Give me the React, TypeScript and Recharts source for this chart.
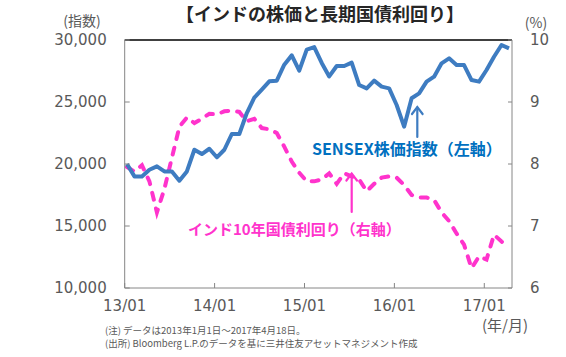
import React from 'react';
import { LineChart, Line, XAxis, YAxis, ReferenceLine } from 'recharts';

// Monthly observations, Jan 2013 .. Apr 2017 (observed around the 10th of each month)
const OBS_OFFSET = 0.3; // fraction of a month after the month start
const sensex = [
  20000, 19000, 19000, 19540, 19810, 19400, 19400, 18650, 19400, 21150,
  20800, 21230, 20540, 21150, 22420, 22420, 24110, 25350, 26000, 26670,
  26720, 28010, 28760, 27530, 29230, 29430, 28150, 27060, 27900, 27900,
  28170, 26370, 26100, 26720, 26240, 26100, 24760, 23010, 25300, 25700,
  26640, 27040, 28120, 28520, 27980, 27980, 26770, 26640, 27580, 28650,
  29600, 29330,
];
const bond10y = [
  7.95, 7.88, 7.98, 7.72, 7.22, 7.6, 8.1, 8.6, 8.75, 8.66,
  8.73, 8.81, 8.8, 8.85, 8.86, 8.84, 8.69, 8.73, 8.58, 8.56,
  8.5, 8.28, 8.04, 7.86, 7.72, 7.72, 7.75, 7.85, 7.68, 7.85,
  7.8, 7.75, 7.56, 7.68, 7.78, 7.8, 7.78, 7.66, 7.5, 7.46,
  7.46, 7.42, 7.22, 7.08, 6.88, 6.7, 6.32, 6.51, 6.46, 6.86,
  6.75, 6.66,
];
const xTicks = [0, 12, 24, 36, 48];
const xTickLabels = ['13/01', '14/01', '15/01', '16/01', '17/01'];
const xDomainEnd = 51.7; // 2017/04/18
const leftTicks = [10000, 15000, 20000, 25000, 30000];
const rightTicks = [6, 7, 8, 9, 10];

const title = '【インドの株価と長期国債利回り】';
const leftUnit = '(指数)';
const rightUnit = '(%)';
const xUnit = '(年/月)';
const sensexLabel = 'SENSEX株価指数（左軸）';
const bondLabel = 'インド10年国債利回り（右軸）';
const note1 = '(注) データは2013年1月1日～2017年4月18日。';
const note2 = '(出所) Bloomberg L.P.のデータを基に三井住友アセットマネジメント作成';

const data = sensex.map((v, i) => ({ t: i + OBS_OFFSET, sensex: v, bond: bond10y[i] }));

const AX = '#868686';
const TXT = '#595959';
const NUM_FONT = '"DejaVu Sans", sans-serif';
const JP_FONT = '"Noto Sans CJK JP", sans-serif';
const BLUE = '#3E7CC1';
const BLUE_TXT = '#0070C0';
const PINK = '#FF33CC';

export default function App() {
  return (
    <div style={{ position: 'absolute', left: 0, top: 0, width: 566, height: 357, background: '#fff' }}>
      <LineChart width={566} height={357} data={data} margin={{ top: 40, right: 0, bottom: 39, left: 0 }}>
        <XAxis
          dataKey="t"
          type="number"
          domain={[0, xDomainEnd]}
          ticks={xTicks}
          tickFormatter={(v: number) => xTickLabels[xTicks.indexOf(v)] ?? ''}
          tickSize={-5}
          tickMargin={17}
          height={30}
          axisLine={{ stroke: AX }}
          tickLine={{ stroke: AX }}
          tick={{ fill: TXT, fontSize: 15, fontFamily: NUM_FONT }}
          interval={0}
          allowDataOverflow
        />
        <YAxis
          yAxisId="left"
          domain={[10000, 30000]}
          ticks={leftTicks}
          tickFormatter={(v: number) => v.toLocaleString('en-US')}
          tickSize={-5}
          tickMargin={23}
          width={124.7}
          axisLine={{ stroke: AX }}
          tickLine={{ stroke: AX }}
          tick={{ fill: TXT, fontSize: 15, fontFamily: NUM_FONT }}
          interval={0}
        />
        <YAxis
          yAxisId="right"
          orientation="right"
          domain={[6, 10]}
          ticks={rightTicks}
          tickSize={-4}
          tickMargin={22}
          width={54}
          axisLine={{ stroke: AX }}
          tickLine={{ stroke: AX }}
          tick={{ fill: TXT, fontSize: 15, fontFamily: NUM_FONT }}
          interval={0}
        />
        <ReferenceLine yAxisId="left" y={30000} stroke="#000" strokeWidth={1.5} />
        <Line
          yAxisId="right"
          dataKey="bond"
          type="linear"
          stroke={PINK}
          strokeWidth={4}
          strokeDasharray="7 9"
          strokeLinecap="round"
          dot={false}
          isAnimationActive={false}
        />
        <Line
          yAxisId="left"
          dataKey="sensex"
          type="linear"
          stroke={BLUE}
          strokeWidth={4}
          strokeLinejoin="round"
          dot={false}
          isAnimationActive={false}
        />
      </LineChart>
      <svg width={566} height={357} style={{ position: 'absolute', left: 0, top: 0, pointerEvents: 'none' }}>
        <text x={320} y={13} textAnchor="middle" dominantBaseline="central" fontFamily={JP_FONT} fontWeight="bold" fontSize={18} fill="#262626">{title}</text>
        <text x={82} y={20} textAnchor="middle" dominantBaseline="central" fontFamily={JP_FONT} fontSize={14} fill={TXT}>{leftUnit}</text>
        <text x={536} y={22} textAnchor="middle" dominantBaseline="central" fontFamily={JP_FONT} fontSize={14} fill={TXT}>{rightUnit}</text>
        <text x={312} y={148} dominantBaseline="central" fontFamily={JP_FONT} fontWeight="bold" fontSize={16} fill={BLUE_TXT}>{sensexLabel}</text>
        <g stroke={BLUE} strokeWidth={2.2} fill="none" strokeLinecap="round">
          <line x1={417.3} y1={137} x2={417.3} y2={107.5} />
          <polyline points="412,114 417.3,107 422.6,114" />
        </g>
        <text x={188} y={228} dominantBaseline="central" fontFamily={JP_FONT} fontWeight="bold" fontSize={15} fill={PINK}>{bondLabel}</text>
        <g stroke={PINK} strokeWidth={2.2} fill="none" strokeLinecap="round">
          <line x1={351.7} y1={212} x2={351.7} y2={174} />
          <polyline points="346.4,180.5 351.7,173.5 357,180.5" />
        </g>
        <text x={505} y={324} textAnchor="middle" dominantBaseline="central" fontFamily={JP_FONT} fontSize={15} fill={TXT}>{xUnit}</text>
        <text x={105} y={330} dominantBaseline="central" fontFamily={JP_FONT} fontSize={9.5} fill={TXT}>{note1}</text>
        <text x={105} y={343} dominantBaseline="central" fontFamily={JP_FONT} fontSize={9.5} fill={TXT}>{note2}</text>
      </svg>
    </div>
  );
}
